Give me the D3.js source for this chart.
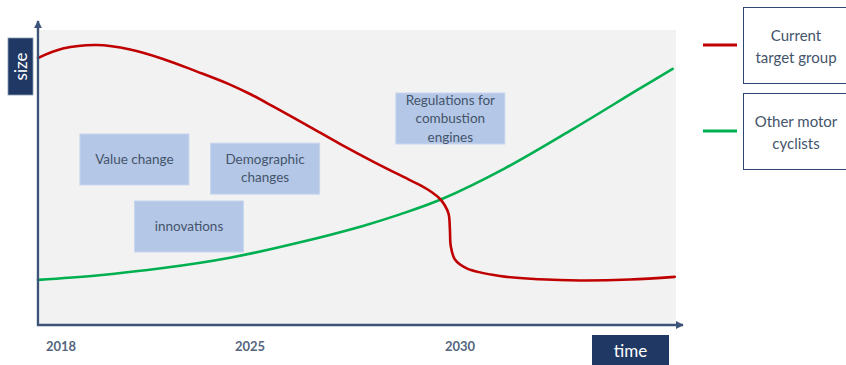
<!DOCTYPE html>
<html>
<head>
<meta charset="utf-8">
<script src="https://cdn.jsdelivr.net/npm/d3@7"></script>
<style>
  html, body { margin: 0; padding: 0; background: #ffffff; }
  svg { display: block; font-family: Lato, "Open Sans", sans-serif; }
</style>
</head>
<body>
<svg id="chart" width="846" height="365"></svg>
<script>
// Tick years shown on the time axis
const tickYears = [2018, 2025, 2030];

// Curve samples: year and relative size (0-100)
const targetYears = [2017.15, 2018.07, 2019.33, 2020.56, 2021.78, 2023.04, 2024.26, 2025.0, 2025.55, 2026.36, 2027.14, 2027.93, 2028.74, 2029.05, 2029.33, 2029.52, 2029.64, 2029.73, 2029.76, 2029.78, 2029.88, 2030.16, 2030.95, 2031.9, 2032.86, 2034.05, 2035.12];
const targetSize  = [90.5, 93.7, 94.9, 93.4, 90.2, 85.9, 81.5, 78.3, 74.1, 67.7, 61.4, 55.4, 49.6, 47.4, 45.0, 42.8, 40.5, 37.6, 32.2, 26.8, 22.2, 19.2, 16.6, 15.5, 15.1, 15.4, 16.3];

const otherYears = [2017.15, 2019.33, 2021.78, 2024.26, 2026.12, 2027.69, 2028.57, 2029.57, 2031.07, 2032.69, 2034.29, 2035.07];
const otherSize  = [15.3, 16.8, 19.3, 22.8, 27.8, 33.6, 37.5, 42.7, 53.1, 66.4, 80.2, 86.8];

// Series names and colours
const seriesNames  = ["Current target group", "Other motor cyclists"];
const seriesLines  = [["Current", "target group"], ["Other motor", "cyclists"]];
const seriesColors = ["#c00000", "#00b050"];

// Driver boxes placed on the chart (centre year, centre size, text lines)
const driverLabels = [
  { year: 2020.72, size: 56.1, lines: ["Value change"] },
  { year: 2025.36, size: 53.0, lines: ["Demographic", "changes"] },
  { year: 2022.74, size: 33.4, lines: ["innovations"] },
  { year: 2029.77, size: 70.0, lines: ["Regulations for", "combustion", "engines"] }
];

const svg = d3.select("#chart");
const axisColor = "#3d5478";
const textColor = "#44546a";

// Time runs faster after 2025 on this schematic axis, so use a polylinear scale
const x = d3.scaleLinear()
  .domain([2017.15, 2018, 2025, 2030, 2035.15])
  .range([38, 61, 250, 460, 676]);
const y = d3.scaleLinear().domain([0, 100]).range([325, 30]);

// Plot background
svg.append("rect")
  .attr("x", 40).attr("y", y(100))
  .attr("width", 676 - 40).attr("height", y(0) - y(100))
  .attr("fill", "#f2f2f2");

// Arrow marker for the axes
const defs = svg.append("defs");
defs.append("marker")
  .attr("id", "arrow")
  .attr("viewBox", "0 0 10 10")
  .attr("refX", 9).attr("refY", 5)
  .attr("markerWidth", 3.4).attr("markerHeight", 3.4)
  .attr("markerUnits", "strokeWidth")
  .attr("orient", "auto")
  .append("path")
  .attr("d", "M0,0 L10,5 L0,10 Z")
  .attr("fill", axisColor);

// Driver boxes
const boxW = 109, boxH = 51, lineH = 18.5;
const drivers = svg.append("g");
driverLabels.forEach(d => {
  const cx = x(d.year), cy = y(d.size);
  drivers.append("rect")
    .attr("x", cx - boxW / 2).attr("y", cy - boxH / 2)
    .attr("width", boxW).attr("height", boxH)
    .attr("fill", "#b4c7e7")
    .attr("stroke", "#c9d6ee").attr("stroke-width", 1);
  const t = drivers.append("text")
    .attr("text-anchor", "middle")
    .attr("font-size", 13.5)
    .attr("fill", textColor);
  const n = d.lines.length;
  d.lines.forEach((s, i) => {
    t.append("tspan")
      .attr("x", cx)
      .attr("y", cy + (i - (n - 1) / 2) * lineH + 4.5)
      .text(s);
  });
});

// Curves
const line = d3.line()
  .x(d => x(d[0]))
  .y(d => y(d[1]))
  .curve(d3.curveCatmullRom.alpha(0.5));

const seriesData = [
  d3.zip(targetYears, targetSize),
  d3.zip(otherYears, otherSize)
];

// Draw green first so the red drop sits on top at the crossing
[1, 0].forEach(i => {
  svg.append("path")
    .datum(seriesData[i])
    .attr("d", line)
    .attr("fill", "none")
    .attr("stroke", seriesColors[i])
    .attr("stroke-width", 2.6)
    .attr("stroke-linecap", "round");
});

// Axes with arrow heads
svg.append("line")
  .attr("x1", 38).attr("y1", y(0) + 1)
  .attr("x2", 38).attr("y2", 21)
  .attr("stroke", axisColor).attr("stroke-width", 2.4)
  .attr("marker-end", "url(#arrow)");
svg.append("line")
  .attr("x1", 37).attr("y1", y(0))
  .attr("x2", 683).attr("y2", y(0))
  .attr("stroke", axisColor).attr("stroke-width", 2.4)
  .attr("marker-end", "url(#arrow)");

// Year tick labels
svg.append("g")
  .selectAll("text")
  .data(tickYears)
  .join("text")
  .attr("x", d => x(d))
  .attr("y", 351)
  .attr("text-anchor", "middle")
  .attr("font-size", 13)
  .attr("font-weight", "bold")
  .attr("fill", "#55657d")
  .text(d => d);

// Axis title boxes
svg.append("rect")
  .attr("x", 8).attr("y", 38).attr("width", 25).attr("height", 57)
  .attr("fill", "#1f3864").attr("stroke", "#8b9bb5").attr("stroke-width", 0.8);
svg.append("text")
  .attr("transform", "translate(26.5,66.5) rotate(-90)")
  .attr("text-anchor", "middle")
  .attr("font-size", 17)
  .attr("fill", "#ffffff")
  .text("size");

svg.append("rect")
  .attr("x", 592).attr("y", 335).attr("width", 77).attr("height", 32)
  .attr("fill", "#1f3864");
svg.append("text")
  .attr("x", 630.5).attr("y", 357)
  .attr("text-anchor", "middle")
  .attr("font-size", 17)
  .attr("fill", "#ffffff")
  .text("time");

// Legend
const legendTop = [7, 93];
const legend = svg.append("g");
seriesNames.forEach((name, i) => {
  const top = legendTop[i];
  legend.append("line")
    .attr("x1", 703).attr("x2", 737)
    .attr("y1", top + 38).attr("y2", top + 38)
    .attr("stroke", seriesColors[i]).attr("stroke-width", 3);
  legend.append("rect")
    .attr("x", 743.5).attr("y", top + 0.5)
    .attr("width", 110).attr("height", 76)
    .attr("fill", "#ffffff")
    .attr("stroke", "#2f4670").attr("stroke-width", 1);
  const t = legend.append("text")
    .attr("text-anchor", "middle")
    .attr("font-size", 15)
    .attr("fill", textColor);
  seriesLines[i].forEach((s, k) => {
    t.append("tspan")
      .attr("x", 796)
      .attr("y", top + 34 + k * 22)
      .text(s);
  });
});
</script>
</body>
</html>
